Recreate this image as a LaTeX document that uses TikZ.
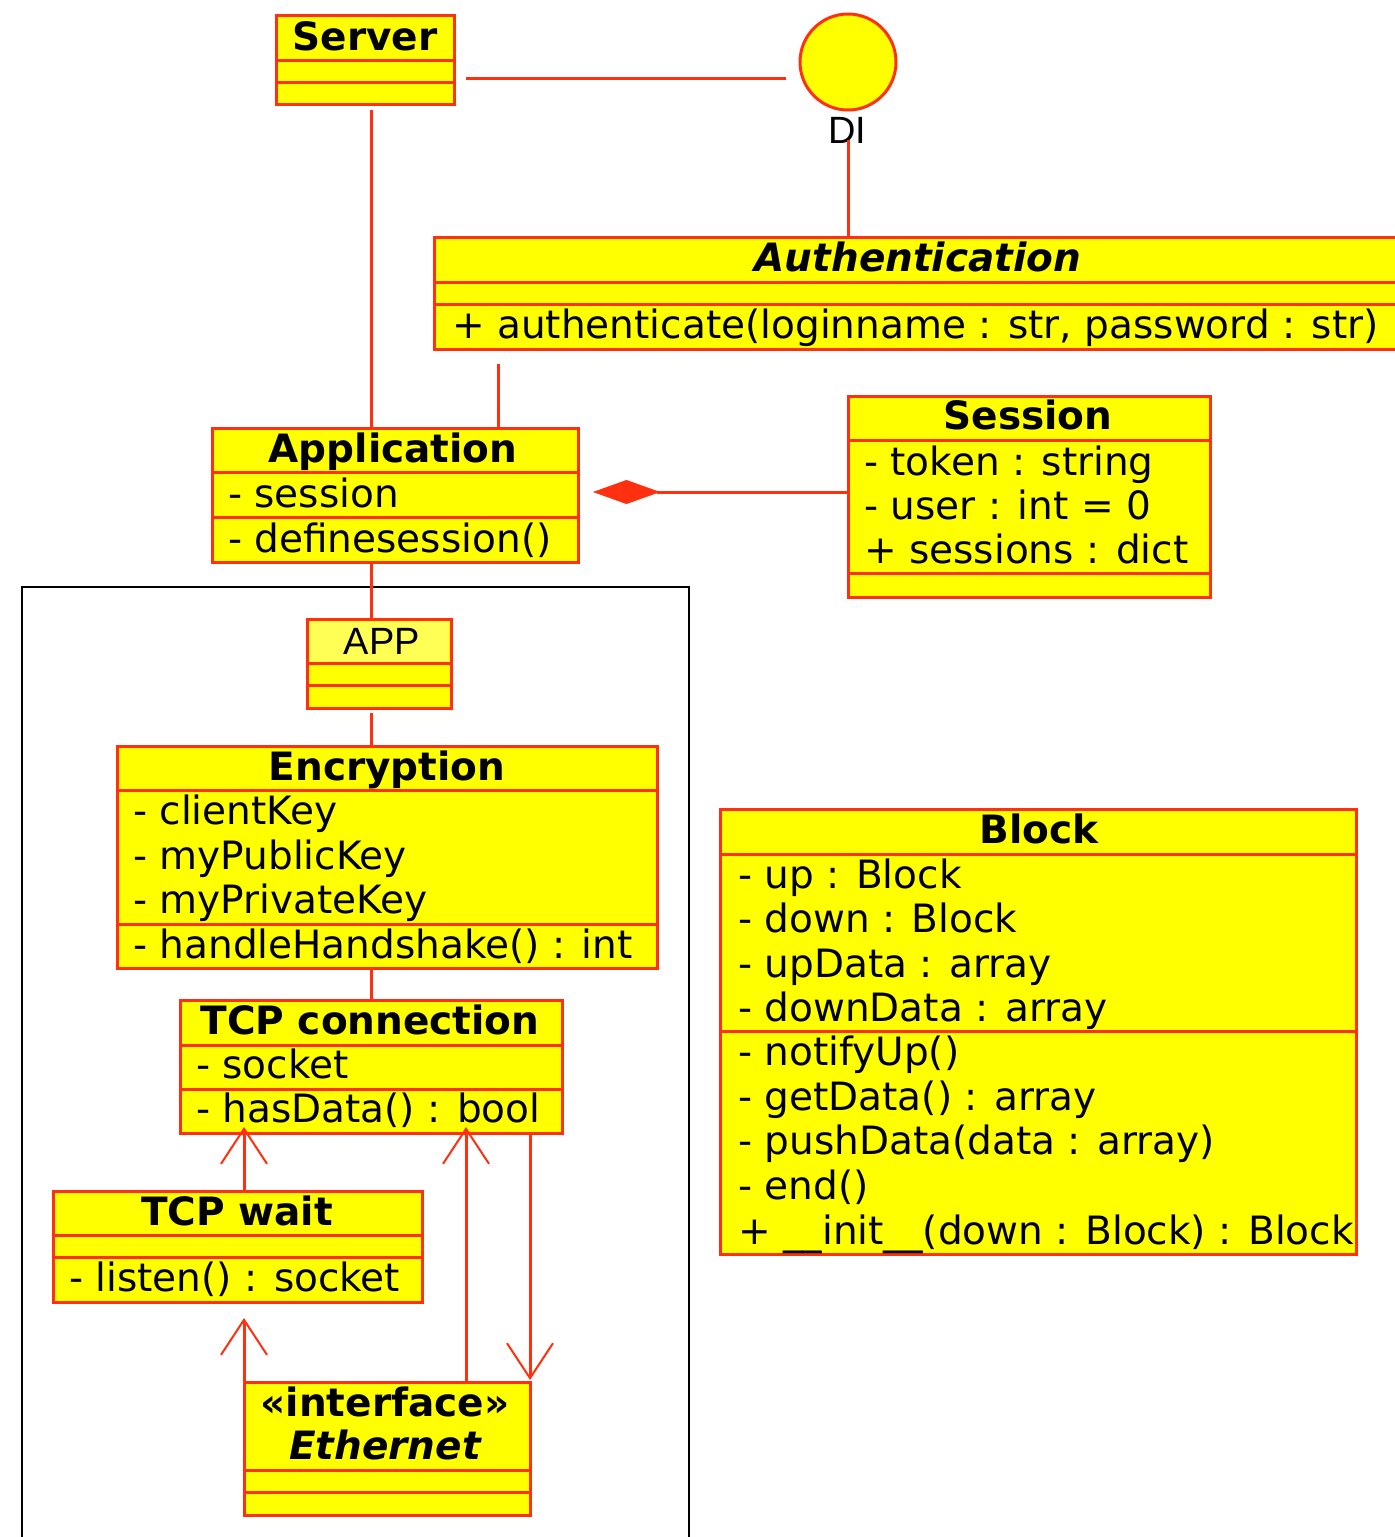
\documentclass[tikz,border=0pt]{standalone}
\usepackage{fontspec}
\setmainfont{DejaVu Sans}
\newfontfamily\arialfont{Liberation Sans}
\usetikzlibrary{arrows.meta,calc}
\definecolor{umlyellow}{HTML}{FFFF00}
\definecolor{umllight}{HTML}{FFFF55}
\definecolor{umlred}{RGB}{255,48,16}
\newcommand\umlfont{\fontsize{39}{44}\selectfont}
\tikzset{
  cls/.style={draw=umlred, fill=umlyellow, line width=3pt, rectangle, inner sep=0pt, outer sep=0pt, anchor=north west},
  divl/.style={draw=umlred, line width=3pt},
  txt/.style={inner sep=0pt, anchor=west, text height=29pt, text depth=0pt, font=\umlfont},
  ttl/.style={inner sep=0pt, anchor=center, text height=29pt, text depth=0pt, font=\umlfont\bfseries},
  conn/.style={draw=umlred, line width=3pt},
  opena/.style={conn, -{Straight Barb[length=35pt,width=46pt,line width=2pt]}},
  pkg/.style={draw=black, line width=2.5pt, rectangle, inner sep=0pt, outer sep=0pt, anchor=north west}
}
\begin{document}
\begin{tikzpicture}[x=1pt,y=1pt]
\clip (0,0) rectangle (1395,-1537);
\fill[white] (0,0) rectangle (1395,-1537);

% package frame
\node[pkg, minimum width=667pt, minimum height=1000pt] (frame) at (22,-587) {};

% Server
\node[cls, minimum width=178pt, minimum height=89pt] (server) at (276,-15) {};
\draw[divl] (276,-60) -- (454,-60);
\draw[divl] (276,-82) -- (454,-82);
\node[ttl] (server-t) at (365,-36) {Server};

% DI interface
\node[circle, draw=umlred, fill=umlyellow, line width=3pt, minimum size=96pt, inner sep=0pt, outer sep=0pt] (di) at (848,-62) {};
\node[inner sep=0pt, text height=27pt, text depth=0pt, font=\arialfont\fontsize{38}{44}\selectfont] (di-t) at (847,-130) {DI};

% Authentication
\node[cls, minimum width=970pt, minimum height=112pt] (auth) at (434,-237) {};
\draw[divl] (434,-282) -- (1404,-282);
\draw[divl] (434,-304) -- (1404,-304);
\node[ttl, font=\umlfont\bfseries\itshape] (auth-t) at (918,-257) {Authentication};
\node[txt] (auth-m1) at (452,-324) {+ authenticate(loginname : str, password : str)};

% Application
\node[cls, minimum width=366pt, minimum height=134pt] (appl) at (212,-428) {};
\draw[divl] (212,-472) -- (578,-472);
\draw[divl] (212,-517) -- (578,-517);
\node[ttl] (appl-t) at (393,-448) {Application};
\node[txt] (appl-a1) at (228,-493) {- session};
\node[txt] (appl-m1) at (228,-538) {- definesession()};

% Session
\node[cls, minimum width=362pt, minimum height=201pt] (sess) at (848,-396) {};
\draw[divl] (848,-440) -- (1210,-440);
\draw[divl] (848,-573) -- (1210,-573);
\node[ttl] (sess-t) at (1028,-415) {Session};
\node[txt] (sess-a1) at (864,-461) {- token : string};
\node[txt] (sess-a2) at (864,-505) {- user : int = 0};
\node[txt] (sess-a3) at (864,-549) {+ sessions : dict};

% APP
\node[cls, minimum width=144pt, minimum height=89pt] (app) at (307,-619) {};
\fill[umllight] (309.5,-621.5) rectangle (448.5,-662);
\draw[divl] (307,-663) -- (451,-663);
\draw[divl] (307,-685) -- (451,-685);
\node[inner sep=0pt, text height=27pt, text depth=0pt, font=\arialfont\fontsize{38}{44}\selectfont] (app-t) at (382,-641) {APP};

% Encryption
\node[cls, minimum width=540pt, minimum height=222pt] (enc) at (117,-746) {};
\draw[divl] (117,-790) -- (657,-790);
\draw[divl] (117,-924) -- (657,-924);
\node[ttl] (enc-t) at (387,-766) {Encryption};
\node[txt] (enc-a1) at (133,-810) {- clientKey};
\node[txt] (enc-a2) at (133,-855) {- myPublicKey};
\node[txt] (enc-a3) at (133,-899) {- myPrivateKey};
\node[txt] (enc-m1) at (133,-944) {- handleHandshake() : int};

% TCP connection
\node[cls, minimum width=382pt, minimum height=133pt] (tcpc) at (180,-1000) {};
\draw[divl] (180,-1045) -- (562,-1045);
\draw[divl] (180,-1089) -- (562,-1089);
\node[ttl] (tcpc-t) at (370,-1020) {TCP connection};
\node[txt] (tcpc-a1) at (196,-1064) {- socket};
\node[txt] (tcpc-m1) at (196,-1108) {- hasData() : bool};

% TCP wait
\node[cls, minimum width=369pt, minimum height=111pt] (tcpw) at (53,-1191) {};
\draw[divl] (53,-1235) -- (422,-1235);
\draw[divl] (53,-1257) -- (422,-1257);
\node[ttl] (tcpw-t) at (237,-1211) {TCP wait};
\node[txt] (tcpw-m1) at (69,-1277) {- listen() : socket};

% Ethernet
\node[cls, minimum width=286pt, minimum height=133pt] (eth) at (244,-1382) {};
\draw[divl] (244,-1470) -- (530,-1470);
\draw[divl] (244,-1492) -- (530,-1492);
\node[ttl] (eth-s) at (385,-1402) {«interface»};
\node[ttl, font=\umlfont\bfseries\itshape] (eth-t) at (385,-1445) {Ethernet};

% Block
\node[cls, minimum width=636pt, minimum height=445pt] (block) at (720,-809) {};
\draw[divl] (720,-854) -- (1356,-854);
\draw[divl] (720,-1031) -- (1356,-1031);
\node[ttl] (block-t) at (1039,-829) {Block};
\node[txt] (block-a1) at (738,-874) {- up : Block};
\node[txt] (block-a2) at (738,-918) {- down : Block};
\node[txt] (block-a3) at (738,-963) {- upData : array};
\node[txt] (block-a4) at (738,-1007) {- downData : array};
\node[txt] (block-m1) at (738,-1051) {- notifyUp()};
\node[txt] (block-m2) at (738,-1096) {- getData() : array};
\node[txt] (block-m3) at (738,-1140) {- pushData(data : array)};
\node[txt] (block-m4) at (738,-1185) {- end()};
\node[txt] (block-m5) at (738,-1230) {+ \_\_init\_\_(down : Block) : Block};

% connectors
\draw[conn] ($(server.north east)+(12,-63)$) -- ($(di.west)+(-14,-16)$);
\draw[conn] ($(di.south)+(0,-30)$) -- (auth.north -| di.south);
\draw[conn] ($(server.south west)+(95,-6)$) -- ($(appl.north west)+(159,0)$);
\draw[conn] ($(auth.south west)+(64,-15)$) -- ($(appl.north west)+(286,0)$);
\draw[conn, -{Diamond[length=67pt,width=24pt,line width=0.5pt,fill=umlred]}] ($(sess.north west)+(0,-96)$) -- ($(appl.north east)+(15,-64)$);
\draw[conn] ($(appl.south west)+(159,0)$) -- ($(app.north west)+(64,0)$);
\draw[conn] ($(app.south west)+(64,-5)$) -- ($(enc.north west)+(254,0)$);
\draw[conn] ($(enc.south west)+(254,0)$) -- ($(tcpc.north west)+(191,0)$);
\draw[opena] ($(tcpw.north west)+(191,0)$) -- ($(tcpc.south west)+(64,6)$);
\draw[opena] (eth.north west) -- ($(tcpw.south west)+(191,-16)$);
\draw[opena] ($(eth.north west)+(222,0)$) -- ($(tcpc.south west)+(286,6)$);
\draw[opena] ($(tcpc.south west)+(350,0)$) -- ($(eth.north east)+(0,2)$);
\end{tikzpicture}
\end{document}
